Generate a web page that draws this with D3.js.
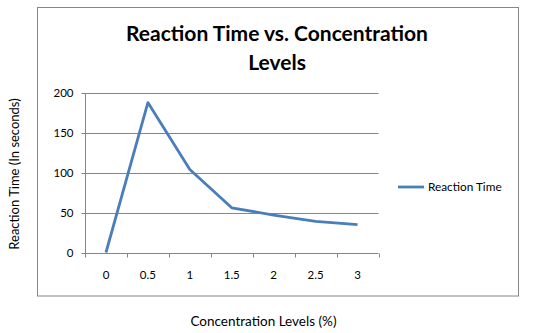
<!DOCTYPE html>
<html><head><meta charset="utf-8">
<script src="https://cdn.jsdelivr.net/npm/d3@7/dist/d3.min.js"></script>
<style>html,body{margin:0;padding:0;background:#fff;}svg{display:block;}text{font-family:Lato,"Open Sans",sans-serif;fill:#000;}</style>
</head><body>
<script>
const categories = ["0","0.5","1","1.5","2","2.5","3"];
const reactionTime = [0, 188, 104, 56, 47, 39, 35];
const yTicks = [0, 50, 100, 150, 200];
const seriesName = "Reaction Time";
const titleLines = ["Reaction Time vs. Concentration", "Levels"];
const xTitle = "Concentration Levels (%)";
const yTitle = "Reaction Time (In seconds)";

const W = 538, H = 333;
const svg = d3.select("body").append("svg").attr("width", W).attr("height", H);
const plot = {left: 85, right: 378.5, top: 93, bottom: 252.5};
const blue = "#4a7ebb", gray = "#868686";

// chart frame
svg.append("rect").attr("x", 37.5).attr("y", 7.5).attr("width", 481).attr("height", 288.5)
  .attr("fill", "#fff").attr("stroke", gray).attr("stroke-width", 1);

const x = d3.scaleBand().domain(categories).range([plot.left, plot.right]);
const y = d3.scaleLinear().domain([0, 200]).range([plot.bottom, plot.top]);

// gridlines
svg.append("g").selectAll("line").data(yTicks.filter(d => d > 0)).join("line")
  .attr("x1", plot.left).attr("x2", plot.right)
  .attr("y1", d => Math.round(y(d)) + 0.5).attr("y2", d => Math.round(y(d)) + 0.5)
  .attr("stroke", gray).attr("stroke-width", 1);

// y axis
const yAxis = svg.append("g").attr("transform", `translate(${plot.left + 0.5},0.5)`)
  .call(d3.axisLeft(y).tickValues(yTicks).tickSize(4).tickPadding(8).tickFormat(d3.format("d")));
yAxis.select(".domain").attr("stroke", gray).attr("d", `M0,${Math.round(y(200))}V${Math.round(y(0))}`);
yAxis.selectAll(".tick line").attr("stroke", gray);
yAxis.selectAll(".tick text").style("font-family", "Lato,sans-serif").style("font-size", "11.5px").attr("fill", "#000");
yAxis.selectAll(".tick").attr("transform", d => `translate(0,${Math.round(y(d))})`);

// x axis
const xAxis = svg.append("g").attr("transform", `translate(0,${Math.round(plot.bottom) + 0.5})`)
  .call(d3.axisBottom(x).tickSize(0).tickPadding(17));
xAxis.select(".domain").attr("stroke", gray).attr("d", `M${plot.left},0H${plot.right}`);
xAxis.selectAll(".tick text").style("font-family", "Lato,sans-serif").style("font-size", "11.5px").attr("fill", "#000");
// tick marks at category boundaries
const bounds = categories.map(c => x(c)).concat([plot.right]);
xAxis.append("g").selectAll("line").data(bounds).join("line")
  .attr("x1", d => Math.round(d) + 0.5).attr("x2", d => Math.round(d) + 0.5)
  .attr("y1", 0).attr("y2", 4).attr("stroke", gray);

// line
const line = d3.line().x((d, i) => x(categories[i]) + x.bandwidth() / 2).y(d => y(d));
svg.append("path").datum(reactionTime).attr("d", line)
  .attr("fill", "none").attr("stroke", blue).attr("stroke-width", 2.8)
  .attr("stroke-linejoin", "round").attr("stroke-linecap", "butt");

// title
svg.append("g").selectAll("text").data(titleLines).join("text")
  .attr("x", 277).attr("y", (d, i) => 41 + i * 29).attr("text-anchor", "middle")
  .style("font-size", "21px").style("font-weight", "bold").text(d => d);

// axis titles
svg.append("text").attr("x", 263.5).attr("y", 326).attr("text-anchor", "middle")
  .style("font-size", "13.5px").text(xTitle);
svg.append("text").attr("transform", "translate(19,174) rotate(-90)").attr("text-anchor", "middle")
  .style("font-size", "13px").text(yTitle);

// legend
const lg = svg.append("g");
lg.append("line").attr("x1", 398).attr("x2", 424).attr("y1", 187).attr("y2", 187)
  .attr("stroke", blue).attr("stroke-width", 2.8);
lg.append("text").attr("x", 428).attr("y", 191).style("font-size", "11.8px").text(seriesName);
</script>
</body></html>
